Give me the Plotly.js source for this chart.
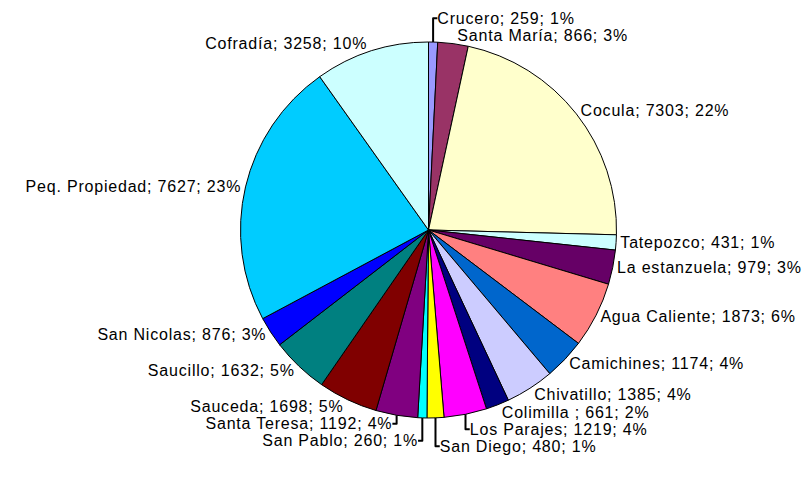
<!DOCTYPE html>
<html>
<head>
<meta charset="utf-8">
<script src="https://cdn.plot.ly/plotly-3.0.1.min.js"></script>
<style>html,body{margin:0;padding:0;background:#fff}#chart{width:807px;height:489px}
svg text{letter-spacing:0.8px}</style>
</head>
<body>
<div id="chart"></div>
<script>
const categories = ["Crucero", "Santa María", "Cocula", "Tatepozco", "La estanzuela", "Agua Caliente",
  "Camichines", "Chivatillo", "Colimilla ", "Los Parajes", "San Diego", "San Pablo", "Santa Teresa",
  "Sauceda", "Saucillo", "San Nicolas", "Peq. Propiedad", "Cofradía"];
const values = [259, 866, 7303, 431, 979, 1873, 1174, 1385, 661, 1219, 480, 260, 1192, 1698, 1632, 876, 7627, 3258];
const colors = ["#9999FF", "#993366", "#FFFFCC", "#CCFFFF", "#660066", "#FF8080", "#0066CC", "#CCCCFF",
  "#000080", "#FF00FF", "#FFFF00", "#00FFFF", "#800080", "#800000", "#008080", "#0000FF", "#00CCFF", "#CCFFFF"];

const trace = {
  type: "pie",
  labels: categories,
  values: values,
  sort: false,
  direction: "clockwise",
  rotation: 0,
  marker: {colors: colors, line: {color: "#000", width: 1}},
  textposition: "outside",
  texttemplate: "%{label}; %{value}; %{percent:.0%}",
  outsidetextfont: {family: "Liberation Sans, Arial, sans-serif", size: 16, color: "#000"},
  hoverinfo: "label+value+percent",
  showlegend: false
};

const layout = {
  width: 807, height: 489,
  margin: {l: 50, r: 0, t: 42, b: 71},
  paper_bgcolor: "#fff",
  plot_bgcolor: "#fff",
  showlegend: false,
  font: {family: "Liberation Sans, Arial, sans-serif", size: 16, color: "#000"}
};

Plotly.newPlot("chart", [trace], layout, {displayModeBar: false, staticPlot: true});
</script>
</body>
</html>
